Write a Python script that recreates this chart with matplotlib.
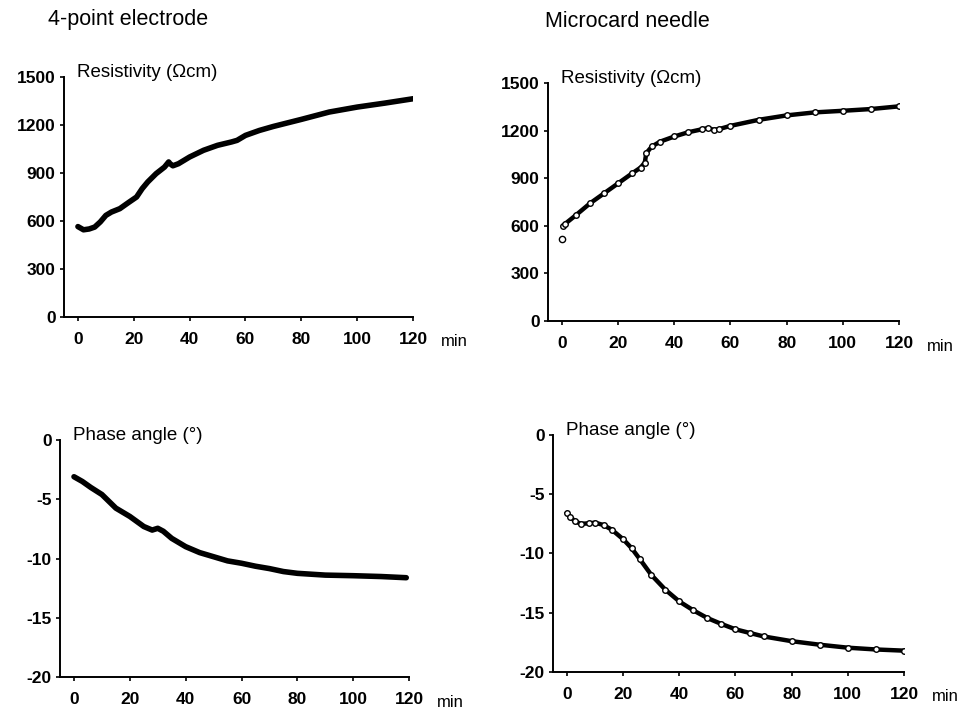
import numpy as np
import matplotlib
matplotlib.use("Agg")
import matplotlib.pyplot as plt

plt.rcParams['font.family'] = ['Liberation Sans', 'DejaVu Sans']
plt.rcParams['axes.unicode_minus'] = False

# 4-point electrode, resistivity (Ohm cm) vs time (min)
t_res_4p = [0, 2, 4, 6, 8, 10, 12, 15, 18, 21, 23, 25, 28, 31, 32.5, 33, 34, 36,
            40, 45, 50, 55, 57, 60, 65, 70, 80, 90, 100, 110, 120]
res_4p = [565, 545, 550, 562, 594, 635, 656, 677, 714, 750, 802, 844, 896, 937, 969,
          958, 945, 958, 1000, 1042, 1073, 1094, 1104, 1135, 1166, 1191, 1235, 1281,
          1312, 1337, 1364]

# Microcard needle, resistivity
t_res_mc = [0.5, 1, 5, 10, 15, 20, 25, 28, 29.5, 30, 32, 35, 40, 45, 50, 52, 54, 56,
            60, 70, 80, 90, 100, 110, 120]
res_mc = [600, 611, 668, 742, 805, 868, 931, 967, 999, 1058, 1100, 1131, 1163, 1190,
          1209, 1216, 1205, 1210, 1230, 1268, 1296, 1315, 1325, 1336, 1353]
t_res_mc_first = [0]
res_mc_first = [514]

# 4-point electrode, phase angle (deg)
t_ph_4p = [0, 3, 6, 10, 15, 20, 25, 28, 30, 32, 35, 40, 45, 50, 55, 60, 65, 70, 75,
           80, 90, 100, 110, 119]
ph_4p = [-3.1, -3.5, -4.0, -4.6, -5.75, -6.45, -7.3, -7.6, -7.45, -7.7, -8.3, -9.0,
         -9.5, -9.85, -10.2, -10.4, -10.65, -10.85, -11.1, -11.25, -11.4, -11.45,
         -11.52, -11.62]

# Microcard needle, phase angle
t_ph_mc = [0, 1, 3, 5, 8, 10, 13, 16, 20, 23, 26, 30, 35, 40, 45, 50, 55, 60, 65, 70,
           80, 90, 100, 110, 120]
ph_mc = [-6.6, -6.9, -7.3, -7.5, -7.45, -7.4, -7.6, -8.0, -8.8, -9.55, -10.5, -11.8,
         -13.05, -14.05, -14.8, -15.45, -15.95, -16.4, -16.7, -17.0, -17.4, -17.7,
         -17.95, -18.1, -18.2]

x_ticks = [0, 20, 40, 60, 80, 100, 120]
res_ticks = [0, 300, 600, 900, 1200, 1500]
ph_ticks = [0, -5, -10, -15, -20]

fig = plt.figure(figsize=(9.62, 7.09), dpi=100)
fig.patch.set_facecolor('white')

ax1 = fig.add_axes([0.0665, 0.5529, 0.3628, 0.3385])
ax2 = fig.add_axes([0.5696, 0.5472, 0.3649, 0.3357])
ax3 = fig.add_axes([0.0624, 0.0451, 0.3628, 0.3343])
ax4 = fig.add_axes([0.5748, 0.0522, 0.3649, 0.3343])


def style_axis(ax, yticks, ylim, label):
    ax.set_xlim(-5, 120)
    ax.set_ylim(*ylim)
    ax.set_xticks(x_ticks)
    ax.set_yticks(yticks)
    for side in ['top', 'right']:
        ax.spines[side].set_visible(False)
    for side in ['left', 'bottom']:
        ax.spines[side].set_linewidth(1.4)
        ax.spines[side].set_color('black')
    ax.tick_params(axis='y', direction='out', length=3, width=1.2, pad=3,
                   labelsize=12.5)
    ax.tick_params(axis='x', direction='out', length=3, width=1.2, pad=8,
                   labelsize=12.5)
    for lab in ax.get_xticklabels() + ax.get_yticklabels():
        lab.set_fontweight('bold')
    ax.annotate(label, xy=(0, 1), xycoords='axes fraction', xytext=(9.5, 3),
                textcoords='offset points', ha='left', va='center', fontsize=13.5)
    ax.annotate('min', xy=(1, 0), xycoords='axes fraction', xytext=(20, -18),
                textcoords='offset points', ha='left', va='center', fontsize=12)


ax1.plot(t_res_4p, res_4p, color='black', lw=4.0, solid_capstyle='round',
         solid_joinstyle='round')
style_axis(ax1, res_ticks, (0, 1500), 'Resistivity (\u03a9cm)')

ax2.plot(t_res_mc, res_mc, color='black', lw=3.2, marker='o', ms=4,
         mfc='white', mec='black', mew=1.0)
ax2.plot(t_res_mc_first, res_mc_first, ls='none', marker='o', ms=4.5,
         mfc='white', mec='black', mew=1.0)
style_axis(ax2, res_ticks, (0, 1500), 'Resistivity (\u03a9cm)')

ax3.plot(t_ph_4p, ph_4p, color='black', lw=4.0, solid_capstyle='round',
         solid_joinstyle='round')
style_axis(ax3, ph_ticks, (-20, 0), 'Phase angle (\u00b0)')

ax4.plot(t_ph_mc, ph_mc, color='black', lw=3.2, marker='o', ms=4,
         mfc='white', mec='black', mew=1.0)
style_axis(ax4, ph_ticks, (-20, 0), 'Phase angle (\u00b0)')

fig.text(0.05, 0.972, '4-point electrode', fontsize=15.5, ha='left', va='center')
fig.text(0.567, 0.969, 'Microcard needle', fontsize=15.5, ha='left', va='center')

fig.savefig('out.png', dpi=100, facecolor='white')
